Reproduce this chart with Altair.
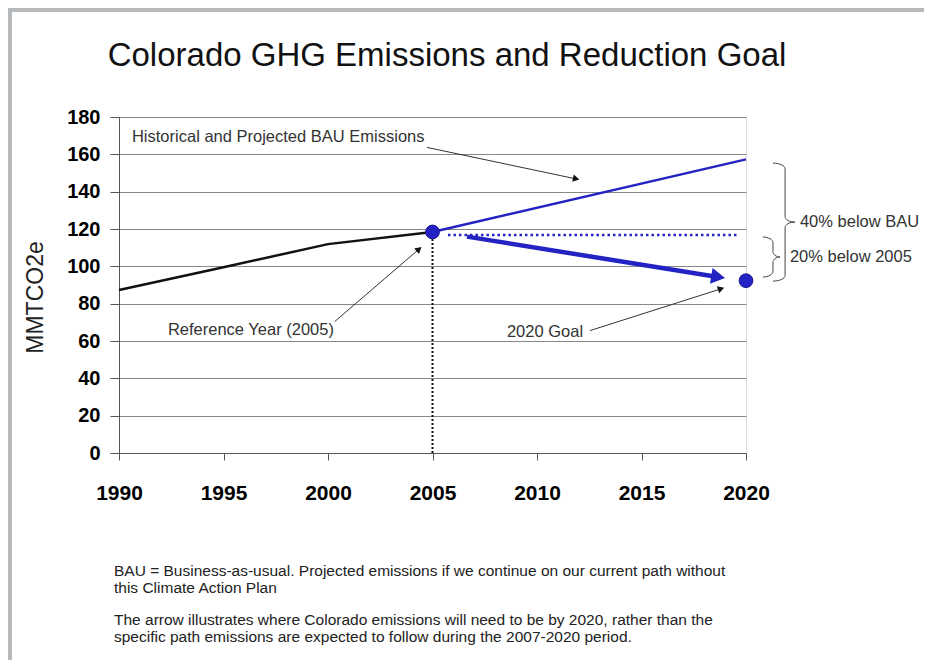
import altair as alt
import numpy as np
import pandas as pd

# ---------------- data ----------------
hist_years = [1990, 1995, 2000, 2005]
hist_values = [87.3, 99.5, 111.9, 118.4]

bau_years = [2005, 2020]
bau_values = [118.4, 157.3]

point_years = [2005, 2020]
point_values = [118.4, 92.3]          # reference year 2005 and 2020 goal

level2005_years = [2005.74, 2019.57]  # dotted 2005 level
level2005_values = [116.8, 116.8]

goal_arrow_years = [2006.65, 2019.0]
goal_arrow_values = [115.9, 93.7]

ref_drop_years = [2005, 2005]
ref_drop_values = [0, 118.4]

x_ticks = [1990, 1995, 2000, 2005, 2010, 2015, 2020]
y_ticks = [0, 20, 40, 60, 80, 100, 120, 140, 160, 180]

# annotations: label, label position, arrow start, arrow tip (data units)
ann_labels = ["Historical and Projected BAU Emissions", "Reference Year (2005)", "2020 Goal"]
ann_label_x = [1990.62, 1992.34, 2008.56]
ann_label_y = [169.3, 65.9, 64.8]
ann_from_x = [2004.74, 2000.33, 2012.54]
ann_from_y = [163.7, 70.5, 65.6]
ann_to_x = [2012.06, 2004.50, 2018.99]
ann_to_y = [146.4, 110.6, 88.6]

brace_labels = ["40% below BAU", "20% below 2005"]
brace_top = [155.3, 115.7]
brace_bottom = [92.1, 94.3]
brace_left = [2021.29, 2020.81]
brace_mid = [2021.87, 2021.29]
brace_tip = [2022.34, 2021.63]
brace_label_x = [2022.58, 2022.10]

title_text = "Colorado GHG Emissions and Reduction Goal"
footnotes = [
    "BAU = Business-as-usual. Projected emissions if we continue on our current path without",
    "this Climate Action Plan",
    "The arrow illustrates where Colorado emissions will need to be by 2020, rather than the",
    "specific path emissions are expected to follow during the 2007-2020 period.",
]
footnote_offsets = [459, 476, 508, 525]

# ---------------- layout ----------------
W, H = 627, 336
PAD_L, PAD_T = 111, 109
SX = W / 30.0
SY = H / 180.0
FONT = "Liberation Sans, Arial, sans-serif"
BLUE = "#2323c4"

xs = alt.Scale(domain=[1990, 2020], nice=False, zero=False)
ys = alt.Scale(domain=[0, 180], nice=False, zero=True)

X_AXIS = alt.Axis(
    values=x_ticks, format="d", grid=False, title=None,
    labelFont=FONT, labelFontSize=21, labelFontWeight="bold", labelColor="#000",
    labelPadding=22, tickSize=7, tickColor="#555", domainColor="#555",
    labelFlush=False)
Y_AXIS = alt.Axis(
    values=y_ticks, format="d", grid=True, gridColor="#888", gridWidth=1,
    title="MMTCO2e", titleFont=FONT, titleFontSize=23, titleFontWeight="normal",
    titleColor="#222", titleAngle=-90, titleX=-84, titleY=180,
    titleAlign="center", titleBaseline="middle",
    labelFont=FONT, labelFontSize=20, labelFontWeight="bold", labelColor="#000",
    labelPadding=10, tickSize=9, tickColor="#555", domainColor="#555")


def X(field="x"):
    return alt.X(f"{field}:Q", scale=xs, axis=X_AXIS, title=None)


def Y(field="y"):
    return alt.Y(f"{field}:Q", scale=ys, axis=Y_AXIS, title="MMTCO2e")


hist = alt.Chart(pd.DataFrame({"x": hist_years, "y": hist_values})).mark_line(
    color="#111", strokeWidth=2.5).encode(x=X(), y=Y())

bau = alt.Chart(pd.DataFrame({"x": bau_years, "y": bau_values})).mark_line(
    color=BLUE, strokeWidth=2.5).encode(x=X(), y=Y())

level = alt.Chart(pd.DataFrame({"x": level2005_years, "y": level2005_values})).mark_line(
    color=BLUE, strokeWidth=2.5, strokeDash=[2.5, 3]).encode(x=X(), y=Y())

drop = alt.Chart(pd.DataFrame({"x": ref_drop_years, "y": ref_drop_values})).mark_line(
    color="#111", strokeWidth=2, strokeDash=[2, 2]).encode(x=X(), y=Y())

# big goal arrow
gx = np.array(goal_arrow_years)
gy = np.array(goal_arrow_values)
gdx = (gx[1] - gx[0]) * SX
gdy = (gy[1] - gy[0]) * SY
glen = np.hypot(gdx, gdy)
gux, guy = gdx / glen, gdy / glen
g_ang = float(np.degrees(np.arctan2(gdx, gdy)) % 360)
g_head_back = 7.0
g_head_x = gx[1] - g_head_back * gux / SX
g_head_y = gy[1] - g_head_back * guy / SY
g_shaft_x = gx[1] - 12 * gux / SX
g_shaft_y = gy[1] - 12 * guy / SY

goal_line = alt.Chart(pd.DataFrame({"x": [gx[0], g_shaft_x], "y": [gy[0], g_shaft_y]})).mark_line(
    color=BLUE, strokeWidth=4.5).encode(x=X(), y=Y())
goal_head = alt.Chart(pd.DataFrame({"x": [g_head_x], "y": [g_head_y]})).mark_point(
    shape="triangle-up", filled=True, color=BLUE, opacity=1, size=260, angle=g_ang,
    clip=False).encode(x=X(), y=Y())

points = alt.Chart(pd.DataFrame({"x": point_years, "y": point_values})).mark_point(
    filled=True, color=BLUE, opacity=1, size=190, stroke="#1a1a90", strokeWidth=1,
    clip=False).encode(x=X(), y=Y())

# annotation arrows
fx, fy = np.array(ann_from_x), np.array(ann_from_y)
tx, ty = np.array(ann_to_x), np.array(ann_to_y)
dxp = (tx - fx) * SX
dyp = (ty - fy) * SY
ln = np.hypot(dxp, dyp)
ux, uy = dxp / ln, dyp / ln
angles = np.degrees(np.arctan2(dxp, dyp)) % 360
back = 4.0
hx = tx - back * ux / SX
hy = ty - back * uy / SY

seg_rows = []
for i in range(len(ann_labels)):
    seg_rows.append({"id": i, "o": 0, "x": fx[i], "y": fy[i]})
    seg_rows.append({"id": i, "o": 1, "x": hx[i], "y": hy[i]})
ann_lines = alt.Chart(pd.DataFrame(seg_rows)).mark_line(
    color="#333", strokeWidth=1, clip=False).encode(
    x=X(), y=Y(), detail="id:N", order="o:Q")

heads = []
for i in range(len(ann_labels)):
    heads.append(alt.Chart(pd.DataFrame({"x": [hx[i]], "y": [hy[i]]})).mark_point(
        shape="triangle-up", filled=True, color="#111", opacity=1, size=55,
        angle=float(angles[i]), clip=False).encode(x=X(), y=Y()))

ann_text = alt.Chart(pd.DataFrame({"t": ann_labels, "x": ann_label_x, "y": ann_label_y})).mark_text(
    align="left", baseline="middle", font=FONT, fontSize=16.5, color="#333", clip=False).encode(
    x=X(), y=Y(), text="t:N")


# braces
def brace_pts(xl, xm, xt, top, bot, r=3.0, n=9):
    mid = (top + bot) / 2.0
    a1 = xm - xl
    a2 = xt - xm
    pts = []
    for th in np.linspace(np.pi / 2, 0, n):
        pts.append((xl + a1 * np.cos(th), top - r + r * np.sin(th)))
    for th in np.linspace(np.pi, 1.5 * np.pi, n):
        pts.append((xt + a2 * np.cos(th), mid + r + r * np.sin(th)))
    for th in np.linspace(np.pi / 2, np.pi, n):
        pts.append((xt + a2 * np.cos(th), mid - r + r * np.sin(th)))
    for th in np.linspace(0, -np.pi / 2, n):
        pts.append((xl + a1 * np.cos(th), bot + r + r * np.sin(th)))
    return pts


brace_rows = []
for b in range(len(brace_labels)):
    for k, (px, py) in enumerate(brace_pts(brace_left[b], brace_mid[b], brace_tip[b],
                                           brace_top[b], brace_bottom[b])):
        brace_rows.append({"id": b, "o": k, "x": px, "y": py})
braces = alt.Chart(pd.DataFrame(brace_rows)).mark_line(
    color="#444", strokeWidth=1, clip=False).encode(
    x=X(), y=Y(), detail="id:N", order="o:Q")

brace_mid_y = [(a + b) / 2 for a, b in zip(brace_top, brace_bottom)]
brace_text = alt.Chart(pd.DataFrame({"t": brace_labels, "x": brace_label_x, "y": brace_mid_y})).mark_text(
    align="left", baseline="middle", font=FONT, fontSize=16.5, color="#333", clip=False).encode(
    x=X(), y=Y(), text="t:N")

one = pd.DataFrame({"a": [0]})
title = alt.Chart(one).mark_text(
    align="center", baseline="alphabetic", font=FONT, fontSize=33, color="#111").encode(
    x=alt.value(328), y=alt.value(-51), text=alt.value(title_text))

notes = []
for line, off in zip(footnotes, footnote_offsets):
    notes.append(alt.Chart(one).mark_text(
        align="left", baseline="alphabetic", font=FONT, fontSize=15.5, color="#222").encode(
        x=alt.value(-5), y=alt.value(off), text=alt.value(line)))

frame_left = alt.Chart(one).mark_rule(color="#b5b9bc", strokeWidth=5).encode(
    x=alt.value(-109.5), y=alt.value(-112), y2=alt.value(560))
frame_top = alt.Chart(one).mark_rule(color="#b5b9bc", strokeWidth=4).encode(
    y=alt.value(-107), x=alt.value(-112), x2=alt.value(820))

chart = alt.layer(
    drop, hist, bau, level, goal_line, goal_head, points,
    ann_lines, *heads, ann_text, braces, brace_text, title, *notes,
    frame_left, frame_top,
).properties(
    width=W, height=H,
    autosize=alt.AutoSizeParams(type="none"),
    padding={"left": PAD_L, "top": PAD_T, "right": 916 - PAD_L - W, "bottom": 652 - PAD_T - H},
).configure_view(stroke="#888", strokeWidth=1).configure(background="white")

chart.save("out.html", embed_options={"renderer": "svg", "actions": False})
